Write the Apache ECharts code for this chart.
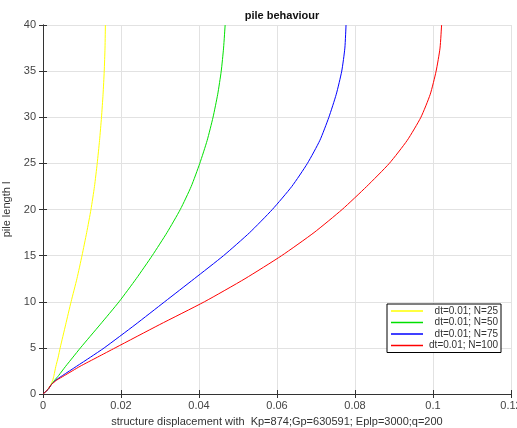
<!DOCTYPE html>
<html lang="en">
  <head>
    <meta charset="UTF-8" />
    <title>pile behaviour</title>
    <style>
      html, body { margin: 0; padding: 0; background: #fff; }
      #main { width: 517px; height: 428px; }
    </style>
  </head>
  <body>
    <div id="main"></div>
    <script src="https://cdn.jsdelivr.net/npm/echarts@6/dist/echarts.min.js"></script>
    <script>
      // pile length (y) shared by every curve
      const depth = [0, 0.5, 1, 1.5, 2, 3, 4, 5, 7.5, 10, 12.5, 15, 17.5, 20, 22.5, 25, 27.5, 30, 32.5, 35, 37.5, 40];
      // displacement (x) at those depths
      const dispN25 = [0, 0.0012, 0.0020, 0.0025, 0.0028, 0.0033, 0.0039, 0.0044, 0.0058, 0.0072, 0.0087, 0.0100, 0.0112, 0.0123, 0.0132, 0.0139, 0.0145, 0.0150, 0.0154, 0.0157, 0.0159, 0.0160];
      const dispN50 = [0, 0.0013, 0.0021, 0.0030, 0.0040, 0.0058, 0.0077, 0.0096, 0.0146, 0.0195, 0.0239, 0.0280, 0.0318, 0.0352, 0.0380, 0.0402, 0.0421, 0.0436, 0.0448, 0.0457, 0.0463, 0.0467];
      const dispN75 = [0, 0.0013, 0.0021, 0.0033, 0.0050, 0.0086, 0.0122, 0.0157, 0.0236, 0.0312, 0.0388, 0.0463, 0.0530, 0.0588, 0.0638, 0.0678, 0.0710, 0.0733, 0.0752, 0.0766, 0.0774, 0.0777];
      const dispN100 = [0, 0.0013, 0.0021, 0.0035, 0.0055, 0.0095, 0.0140, 0.0185, 0.0298, 0.0414, 0.0518, 0.0612, 0.0695, 0.0767, 0.0830, 0.0888, 0.0934, 0.0969, 0.0993, 0.1008, 0.1018, 0.1022];
      const seriesNames = ["dt=0.01; N=25", "dt=0.01; N=50", "dt=0.01; N=75", "dt=0.01; N=100"];
      const seriesColors = ["#ffff00", "#00e000", "#0000ff", "#ff0000"];
      const xTicks = [0, 0.12, 0.02];
      const yTicks = [0, 40, 5];

      const allDisp = [dispN25, dispN50, dispN75, dispN100];
      const mseries = allDisp.map((xs, i) => ({
        name: seriesNames[i],
        type: "line",
        data: xs.map((x, k) => [x, depth[k]]),
        showSymbol: false,
        smooth: 0.2,
        lineStyle: { width: 1, color: seriesColors[i] },
        itemStyle: { color: seriesColors[i] },
        xAxisIndex: 0,
        yAxisIndex: 0,
      }));

      const labelStyle = { color: "#444", fontSize: 11, fontFamily: "Liberation Sans" };
      const lineCol = "#333";
      const gridCol = "#e2e2e2";

      let mchart = echarts.init(document.getElementById("main"));
      let option = {
        animation: false,
        title: {
          text: "pile behaviour",
          left: 277,
          top: 5,
          textAlign: "center",
          textStyle: { fontSize: 11, fontWeight: "bold", color: "#111", fontFamily: "Liberation Sans" },
        },
        grid: { left: 43, right: 6, top: 25, bottom: 34, containLabel: false, outerBoundsMode: "none" },
        legend: {
          data: seriesNames,
          orient: "vertical",
          left: 387,
          top: 304,
          padding: [2, 3, 2, 4],
          itemGap: 1.5,
          itemWidth: 32,
          itemHeight: 1.5,
          icon: "rect",
          borderColor: "#000",
          borderWidth: 1,
          backgroundColor: "#fff",
          formatter: (name) => "{t|" + name + "}",
          textStyle: {
            fontSize: 10,
            color: "#333",
            fontFamily: "Liberation Sans",
            rich: { t: { width: 70, align: "right", fontSize: 10, color: "#333", fontFamily: "Liberation Sans" } },
          },
        },
        xAxis: [
          {
            type: "value",
            min: xTicks[0],
            max: xTicks[1],
            interval: xTicks[2],
            name: "structure displacement with  Kp=874;Gp=630591; Eplp=3000;q=200",
            nameLocation: "middle",
            nameGap: 22,
            nameTextStyle: { fontSize: 11, color: "#333", fontFamily: "Liberation Sans" },
            axisLine: { lineStyle: { color: lineCol } },
            axisTick: { inside: true, length: 4, lineStyle: { color: lineCol } },
            axisLabel: Object.assign({ margin: 6 }, labelStyle),
            splitLine: { show: true, lineStyle: { color: gridCol } },
          },
          {
            type: "value",
            position: "top",
            min: xTicks[0],
            max: xTicks[1],
            interval: xTicks[2],
            axisLine: { lineStyle: { color: lineCol } },
            axisTick: { inside: true, length: 4, lineStyle: { color: lineCol } },
            axisLabel: { show: false },
            splitLine: { show: false },
          },
        ],
        yAxis: [
          {
            type: "value",
            min: yTicks[0],
            max: yTicks[1],
            interval: yTicks[2],
            name: "pile length l",
            nameLocation: "middle",
            nameGap: 27,
            nameTextStyle: { fontSize: 11, color: "#333", fontFamily: "Liberation Sans" },
            axisLine: { show: true, lineStyle: { color: lineCol } },
            axisTick: { show: true, inside: true, length: 4, lineStyle: { color: lineCol } },
            axisLabel: Object.assign({ margin: 7 }, labelStyle),
            splitLine: { show: true, lineStyle: { color: gridCol } },
          },
          {
            type: "value",
            position: "right",
            min: yTicks[0],
            max: yTicks[1],
            interval: yTicks[2],
            axisLine: { show: true, lineStyle: { color: lineCol } },
            axisTick: { show: true, inside: true, length: 4, lineStyle: { color: lineCol } },
            axisLabel: { show: false },
            splitLine: { show: false },
          },
        ],
        series: mseries,
      };
      mchart.setOption(option);
    </script>
  </body>
</html>
